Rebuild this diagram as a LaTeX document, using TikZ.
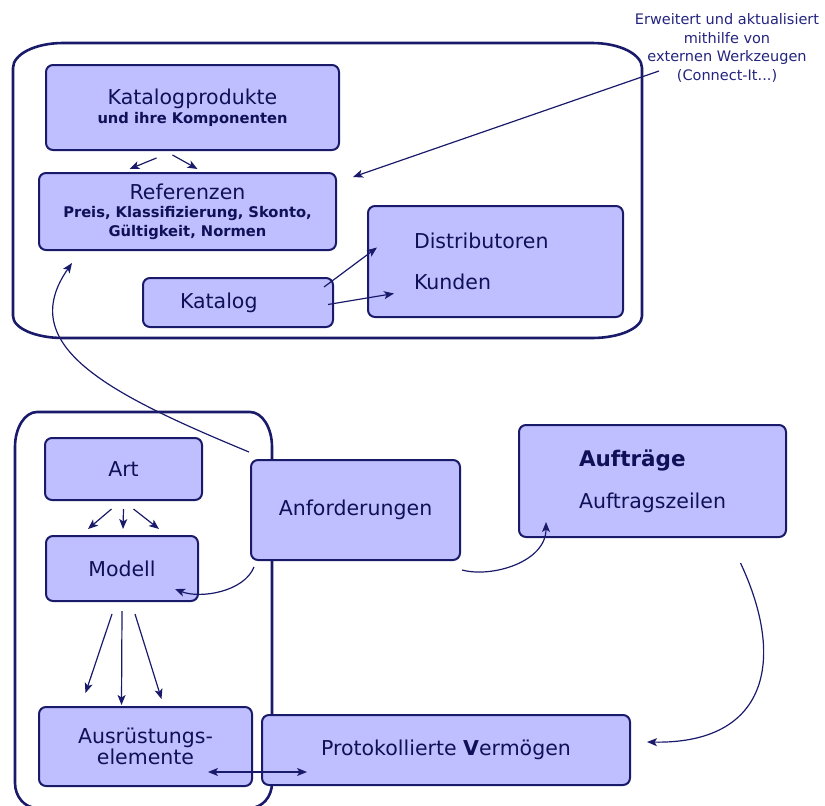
\documentclass[tikz,border=0pt]{standalone}
\usepackage{fontspec}
\setmainfont{DejaVu Sans}
\usetikzlibrary{calc,arrows.meta}
\definecolor{boxfill}{RGB}{191,191,255}
\definecolor{navy}{RGB}{26,26,107}
\definecolor{txt}{RGB}{16,16,88}
\definecolor{notec}{RGB}{36,36,126}
\newcommand\subline{\bfseries\fontsize{14.7}{17}\selectfont}

\begin{document}
\begin{tikzpicture}[%
    x=1pt, y=-1pt,
    >={Stealth[length=10pt,width=8pt,inset=2.5pt]},
    box/.style={%
        draw=navy,
        line width=2pt,
        fill=boxfill,
        rounded corners=7pt,
        text=txt,
        align=center,
        font=\fontsize{20.5}{24}\selectfont,
    },
    frame/.style={draw=navy, line width=2.6pt},
    arr/.style={->, draw=navy, line width=1.2pt},
]
\useasboundingbox (0,0) rectangle (825,806);

    % the two big frames
    \draw[frame] (63,43) -- (592,43) arc[start angle=-90, end angle=0, x radius=50, y radius=25]
        -- (642,316) arc[start angle=0, end angle=90, x radius=50, y radius=22]
        -- (63,338) arc[start angle=90, end angle=180, x radius=50, y radius=22]
        -- (13,68) arc[start angle=180, end angle=270, x radius=50, y radius=25] -- cycle;
    \draw[frame] (37,412) -- (250,412) arc[start angle=-90, end angle=0, x radius=22, y radius=35]
        -- (272,783) arc[start angle=0, end angle=90, x radius=22, y radius=25]
        -- (37,808) arc[start angle=90, end angle=180, x radius=22, y radius=25]
        -- (15,447) arc[start angle=180, end angle=270, x radius=22, y radius=35] -- cycle;

    \node[box, minimum width=293, minimum height=85] (kprod) at (192.5,107.5)
        {Katalogprodukte\\[-5.3pt]\subline und ihre Komponenten};
    \node[box, minimum width=297, minimum height=77] (ref) at (187.5,211.5)
        {Referenzen\\[-5.5pt]\subline Preis, Klassifizierung, Skonto,\\[-5.5pt]\subline G\"ultigkeit, Normen};
    \node[box, minimum height=49, text width=116pt, inner xsep=37pt, align=left] (katalog) at (238,302.5) {Katalog};
    \node[box, minimum height=111, text width=163pt, inner xsep=46pt, align=left] (dist) at (495.5,261.5)
        {Distributoren\\[17pt]Kunden};
    \node[text=notec, align=center, font=\fontsize{14.5}{18.7}\selectfont] (note) at (727,48)
        {Erweitert und aktualisiert\\mithilfe von\\externen Werkzeugen\\(Connect-It...)};
    \coordinate (ext) at (659,71);

    \node[box, minimum width=157, minimum height=62] (art) at (123.5,469) {Art};
    \node[box, minimum width=152, minimum height=65] (modell) at (122,568.5) {Modell};
    \node[box, minimum width=213, minimum height=79] (ausr) at (145.5,746.5) {Ausr\"ustungs-\\[-3pt]elemente};
    \node[box, minimum width=209, minimum height=100] (anf) at (355.5,510) {Anforderungen};
    \node[box, minimum width=368, minimum height=70] (prot) at (446,750) {Protokollierte \textbf{V}erm\"ogen};
    \node[box, minimum width=267, minimum height=112, align=left] (auftr) at (652.5,481)
        {{\bfseries\fontsize{21.5}{24}\selectfont Auftr\"age}\\[18pt]Auftragszeilen};

    % connectors
    \foreach \s/\t/\e in {-36/7/-58, -20/4/10}{%
        \draw[arr] ($(kprod.south)+(\s,\t)$) -- ($(ref.north)+(\e,-3)$);
    }
    \draw[arr] (ext) -- ($(ref.north east)+(16,5)$);
    \draw[arr] ($(katalog.north east)+(-10,10)$) -- ($(dist.west)+(10,-14)$);
    \draw[arr] ($(katalog.east)+(-6,2)$) -- ($(dist.west)+(27,32)$);
    \draw[arr] ($(anf.north west)+(-1,-7)$) .. controls +(-140,-58) and +(-58,83) .. ($(ref.south west)+(34,12)$);
    \draw[arr] ($(anf.south west)+(4,6)$) .. controls +(-10,25) and +(25,10) .. ($(modell.south east)+(-24,-13)$);
    \draw[arr] ($(anf.south east)+(1,9)$) .. controls +(30,8) and +(0,40) .. ($(auftr.south west)+(28,-16)$);
    \draw[arr] ($(auftr.south)+(88,25)$) .. controls +(46,98) and +(120,2) .. ($(prot.east)+(16,-8)$);
    \foreach \s/\e in {-12/-34, 0/1, 10/37}{%
        \draw[arr] ($(art.south)+(\s,8)$) -- ($(modell.north)+(\e,-6)$);
    }
    \foreach \s/\t/\e/\f in {-10/12/-60/-13, 0/9/-24/-1, 13/12/16/-7}{%
        \draw[arr] ($(modell.south)+(\s,\t)$) -- ($(ausr.north)+(\e,\f)$);
    }
    \draw[arr, <->] ($(ausr.south east)+(-45,-15)$) -- ($(prot.south west)+(46,-14)$);
\end{tikzpicture}
\end{document}
